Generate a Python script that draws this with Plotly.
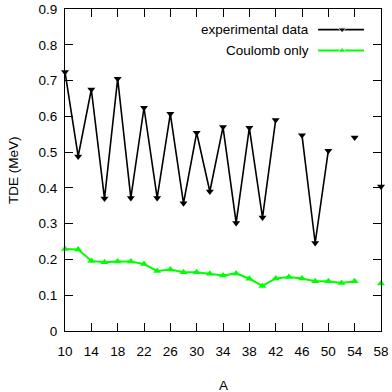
import plotly.graph_objects as go

A = list(range(10, 60, 2))
exp_tde = [0.724, 0.488, 0.675, 0.370, 0.705, 0.372, 0.624, 0.372, 0.607, 0.357,
           0.554, 0.390, 0.570, 0.302, 0.568, 0.317, 0.590, None, 0.547, 0.246,
           0.504, None, 0.541, None, 0.404]
coul_tde = [0.229, 0.228, 0.196, 0.192, 0.194, 0.194, 0.187, 0.168, 0.172, 0.164,
            0.164, 0.160, 0.155, 0.161, 0.146, 0.126, 0.147, 0.151, 0.147, 0.139,
            0.139, 0.134, 0.139, None, 0.133]
x_ticks = list(range(10, 62, 4))
y_ticks = [0, 0.1, 0.2, 0.3, 0.4, 0.5, 0.6, 0.7, 0.8, 0.9]
y_tick_text = ["0", "0.1", "0.2", "0.3", "0.4", "0.5", "0.6", "0.7", "0.8", "0.9"]

BLACK = "#000000"
GREEN = "#00ff00"
FONT = "Liberation Sans, Arial, sans-serif"

fig = go.Figure()
fig.add_trace(go.Scatter(x=A, y=exp_tde, mode="lines+markers", connectgaps=False,
                         line=dict(color=BLACK, width=1.6),
                         marker=dict(symbol="triangle-down", size=7, color=BLACK),
                         showlegend=False, cliponaxis=False))
fig.add_trace(go.Scatter(x=A, y=coul_tde, mode="lines+markers", connectgaps=False,
                         line=dict(color=GREEN, width=2),
                         marker=dict(symbol="triangle-up", size=7, color=GREEN),
                         showlegend=False, cliponaxis=False))

# legend samples on an overlay axis
leg_x = [0.801, 0.877, 0.946]
for name, yy, col, sym, w in [("experimental data", 0.936, BLACK, "triangle-down", 1.6),
                              ("Coulomb only", 0.871, GREEN, "triangle-up", 2)]:
    fig.add_trace(go.Scatter(x=leg_x, y=[yy] * 3, xaxis="x2", yaxis="y2",
                             mode="lines+markers", line=dict(color=col, width=w),
                             marker=dict(symbol=sym, size=[0, 7, 0], color=col),
                             showlegend=False, hoverinfo="skip"))
    fig.add_annotation(x=0.78, y=yy, xref="x2", yref="y2", text=name, showarrow=False,
                       xanchor="right", yanchor="middle",
                       font=dict(family=FONT, size=13.5, color=BLACK))

# axis titles
fig.add_annotation(x=0.5, y=0.0, xref="paper", yref="paper", yshift=-54, text="A",
                   showarrow=False, xanchor="center", yanchor="middle",
                   font=dict(family=FONT, size=13.5, color=BLACK))
fig.add_annotation(x=0.0, y=0.5, xref="paper", yref="paper", xshift=-52, text="TDE (MeV)",
                   textangle=-90, showarrow=False, xanchor="center", yanchor="middle",
                   font=dict(family=FONT, size=13.5, color=BLACK))

axis_common = dict(showgrid=False, zeroline=False, showline=True, linecolor=BLACK,
                   linewidth=1, mirror="ticks", ticks="inside", ticklen=8,
                   tickcolor=BLACK, tickwidth=1, automargin=False,
                   tickfont=dict(family=FONT, size=13.5, color=BLACK))
fig.update_layout(
    width=392, height=392,
    margin=dict(l=65, r=11, t=9, b=61, autoexpand=False),
    paper_bgcolor="white", plot_bgcolor="white",
    xaxis=dict(range=[10, 58], tickvals=x_ticks, ticklabelstandoff=8, **axis_common),
    yaxis=dict(range=[0, 0.9], tickvals=y_ticks, ticktext=y_tick_text, ticklabelstandoff=4,
               **axis_common),
    xaxis2=dict(overlaying="x", range=[0, 1], visible=False, fixedrange=True),
    yaxis2=dict(overlaying="y", range=[0, 1], visible=False, fixedrange=True),
)
fig.write_html("out.html", config={"displayModeBar": False},
               post_script="document.body.style.margin='0';")
